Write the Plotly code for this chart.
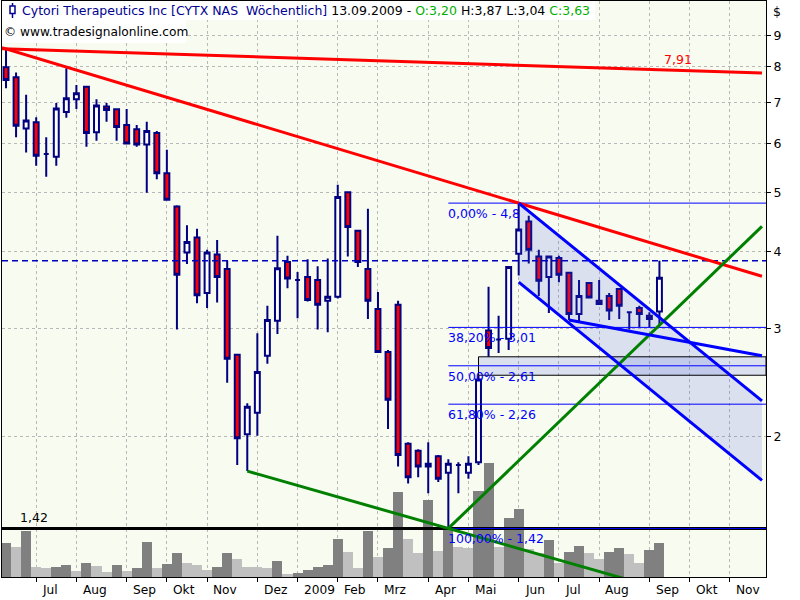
import numpy as np
import pandas as pd
import plotly.graph_objects as go

# ---------------- data ----------------
first_week = "2008-06-15"          # weekly bars dated on Sunday
opens = [7.98, 7.69, 6.35, 6.50, 5.77, 5.71, 6.75, 7.08, 7.42, 6.26,
         6.89, 6.82, 6.43, 6.33, 5.98, 6.24, 5.37, 4.74, 3.99, 4.22,
         3.43, 3.96, 3.75, 2.72, 2.02, 2.19, 2.71, 3.09, 3.85, 3.60,
         3.64, 3.60, 3.33, 3.38, 5.00, 4.33, 3.75, 3.23, 2.75, 3.28,
         1.95, 1.90, 1.79, 1.86, 1.75, 1.80, 1.75, 1.82, 2.98, 2.88,
         2.89, 3.97, 4.48, 3.93, 3.64, 3.91, 3.70, 3.17, 3.56, 3.33,
         3.39, 3.48, 3.19, 3.24, 3.15, 3.20]
highs = [8.55, 7.83, 7.20, 6.62, 6.14, 6.98, 7.95, 7.47, 7.44, 7.08,
         6.98, 6.84, 6.83, 6.43, 6.51, 6.29, 5.86, 4.76, 4.42, 4.36,
         4.03, 4.18, 3.87, 2.73, 2.27, 2.95, 3.27, 4.25, 3.94, 3.71,
         3.89, 3.79, 3.90, 5.14, 5.02, 4.34, 4.70, 3.44, 2.77, 3.33,
         1.96, 1.91, 1.96, 1.87, 1.84, 1.82, 1.86, 2.52, 3.51, 3.15,
         3.79, 4.80, 4.58, 4.03, 3.94, 3.94, 3.71, 3.60, 3.57, 3.60,
         3.43, 3.49, 3.20, 3.27, 3.19, 3.87]
lows = [7.38, 6.14, 5.80, 5.52, 5.30, 5.52, 6.61, 6.83, 5.93, 6.06,
        6.51, 6.06, 5.98, 5.93, 4.99, 5.25, 4.85, 2.99, 3.82, 3.30,
        3.24, 3.31, 2.45, 1.80, 1.76, 2.01, 2.63, 2.94, 3.49, 3.12,
        3.32, 2.99, 2.96, 3.36, 3.93, 3.78, 3.11, 2.74, 2.06, 1.79,
        1.68, 1.72, 1.62, 1.69, 1.42, 1.62, 1.71, 1.80, 2.70, 2.74,
        2.77, 3.66, 3.83, 3.39, 3.18, 3.57, 3.10, 3.08, 3.36, 3.28,
        3.10, 3.11, 2.99, 3.02, 3.02, 3.04]
closes = [7.61, 6.41, 6.54, 5.73, 5.77, 6.84, 7.11, 7.24, 6.24, 6.92,
          6.80, 6.38, 6.00, 5.98, 6.29, 5.37, 4.86, 3.67, 4.15, 3.40,
          3.99, 3.64, 2.68, 1.99, 2.24, 2.55, 3.10, 3.76, 3.62, 3.60,
          3.34, 3.28, 3.38, 4.91, 4.39, 3.85, 3.33, 2.75, 2.30, 1.87,
          1.72, 1.79, 1.81, 1.71, 1.81, 1.80, 1.81, 2.48, 2.79, 2.88,
          3.78, 4.35, 4.03, 3.59, 3.93, 3.67, 3.17, 3.39, 3.37, 3.29,
          3.21, 3.27, 3.19, 3.17, 3.11, 3.63]
volume_k = [680, 600, 920, 200, 180, 200, 240, 120, 280, 220,
            100, 240, 120, 180, 700, 180, 260, 480, 280, 240,
            140, 200, 480, 360, 200, 200, 180, 320, 60, 80,
            140, 200, 240, 760, 500, 180, 920, 400, 580, 1700,
            760, 480, 1540, 520, 940, 600, 580, 1720, 2280, 600,
            1180, 1360, 560, 480, 740, 280, 500, 620, 480, 360,
            500, 580, 460, 280, 540, 680]
month_names = ["Jan", "Feb", "Mrz", "Apr", "Mai", "Jun",
               "Jul", "Aug", "Sep", "Okt", "Nov", "Dez"]
price_ticks = [2, 3, 4, 5, 6, 7, 8, 9]

upper_line_last = 7.91            # label value of the flat red line at last bar
channel_top_end = 2.29            # descending channel, value at drawing end
channel_bottom_start = 3.57
channel_bottom_end = 1.70
support_start_week = 56
support_end = 2.71
fib_levels = [0.0, 0.382, 0.5, 0.618, 1.0]
fib_high_week, fib_low_week = 51, 44
gap_week = 47

# ---------------- helpers ----------------
start = pd.Timestamp(first_week)
n = len(closes)


def kdate(k):
    return start + pd.Timedelta(days=7 * k)


dates = [kdate(i) for i in range(n)]
x_lo_k, x_hi_k = -0.4, 75.6
draw_end_k = 75.2


def log_line(k0, p0, k1, p1, ka, kb):
    s = (np.log(p1) - np.log(p0)) / (k1 - k0)
    return ([kdate(ka), kdate(kb)],
            [float(p0 * np.exp(s * (ka - k0))), float(p0 * np.exp(s * (kb - k0)))])


def de(v):
    return f"{v:.2f}".replace(".", ",")


def de_short(v):
    s = f"{v:.2f}"
    if s.endswith("0"):
        s = s[:-1]
    return s.replace(".", ",")


FONT = "DejaVu Sans"
PL, PR, PT, PB = 2, 766, 1, 577


def xp(px):
    return (px - PL) / (PR - PL)


def yp(py):
    return (PB - py) / (PB - PT)


fig = go.Figure()

# volume (base axis, behind everything)
vol_colors = ["#808080" if i == 0 or volume_k[i] > volume_k[i - 1] else "#C0C0C0"
              for i in range(n)]
fig.add_trace(go.Bar(x=dates, y=volume_k, marker=dict(color=vol_colors, line=dict(width=0)),
                     width=7 * 86400000, yaxis="y", hoverinfo="skip"))

Y2 = "y2"

# channel fill
tx, ty = log_line(fib_high_week, highs[fib_high_week], draw_end_k, channel_top_end,
                  fib_high_week, draw_end_k)
bx, by = log_line(fib_high_week, channel_bottom_start, draw_end_k, channel_bottom_end,
                  fib_high_week, draw_end_k)
fig.add_trace(go.Scatter(x=tx + bx[::-1] + [tx[0]], y=ty + by[::-1] + [ty[0]],
                         fill="toself", fillcolor="rgba(70,90,230,0.16)",
                         line=dict(width=0), mode="lines", yaxis=Y2, hoverinfo="skip"))

# gap box
g0, g1 = highs[gap_week], lows[gap_week + 1]
gx0, gx1 = kdate(gap_week), kdate(x_hi_k)
fig.add_trace(go.Scatter(x=[gx0, gx1, gx1, gx0, gx0], y=[g0, g0, g1, g1, g0],
                         fill="toself", fillcolor="rgba(70,90,230,0.16)",
                         line=dict(color="black", width=1), mode="lines",
                         yaxis=Y2, hoverinfo="skip"))

# black support line at the low
low_val = lows[fib_low_week]
fig.add_trace(go.Scatter(x=[kdate(x_lo_k), kdate(x_hi_k)], y=[low_val, low_val],
                         mode="lines", line=dict(color="black", width=3),
                         yaxis=Y2, hoverinfo="skip"))

# fibonacci lines
fh, fl = highs[fib_high_week], lows[fib_low_week]
fib_vals = [float(np.exp(np.log(fh) - lv * (np.log(fh) - np.log(fl)))) for lv in fib_levels]
annotations = []
for lv, v in zip(fib_levels, fib_vals):
    fig.add_trace(go.Scatter(x=[kdate(fib_low_week), kdate(x_hi_k)], y=[v, v],
                             mode="lines", line=dict(color="#0000FF", width=1),
                             yaxis=Y2, hoverinfo="skip"))
    annotations.append(dict(x=kdate(fib_low_week), y=np.log10(v), xref="x", yref=Y2,
                            text=f"{lv*100:.2f}".replace(".", ",") + "% - " + de_short(v),
                            showarrow=False, xanchor="left", yanchor="top", xshift=-2,
                            yshift=-1, font=dict(family=FONT, size=12.5, color="#0000FF")))

# dashed line at last high
fig.add_trace(go.Scatter(x=[kdate(x_lo_k), kdate(x_hi_k)], y=[highs[-1], highs[-1]],
                         mode="lines", line=dict(color="#0000C0", width=1.5, dash="6px,4px"),
                         yaxis=Y2, hoverinfo="skip"))

# candles
fig.add_trace(go.Candlestick(x=dates, open=opens, high=highs, low=lows, close=closes,
                             increasing=dict(line=dict(color="#000080", width=2), fillcolor="white"),
                             decreasing=dict(line=dict(color="#000080", width=2), fillcolor="#FF0000"),
                             whiskerwidth=0, yaxis=Y2, hoverinfo="skip"))

# trend lines
lines = [
    (log_line(0, highs[0], fib_high_week, highs[fib_high_week], x_lo_k, draw_end_k), "#FF0000"),
    (log_line(0, highs[0], n - 1, upper_line_last, x_lo_k, draw_end_k), "#FF0000"),
    (log_line(24, lows[24], fib_low_week, lows[fib_low_week], 24, draw_end_k), "#008000"),
    (log_line(fib_low_week, lows[fib_low_week], n - 1, lows[n - 1], fib_low_week, draw_end_k), "#008000"),
    ((tx, ty), "#0000FF"),
    ((bx, by), "#0000FF"),
    (log_line(support_start_week, lows[support_start_week], draw_end_k, support_end,
              support_start_week, draw_end_k), "#0000FF"),
]
for (lx, ly), col in lines:
    fig.add_trace(go.Scatter(x=lx, y=ly, mode="lines", line=dict(color=col, width=3),
                             yaxis=Y2, hoverinfo="skip"))

# labels
annotations.append(dict(x=xp(18), y=np.log10(low_val), xref="paper", yref=Y2, text=de(low_val),
                        showarrow=False, xanchor="left", yanchor="bottom", yshift=1,
                        font=dict(family=FONT, size=12.5, color="black")))
annotations.append(dict(x=kdate(n - 1 + 0.3), y=np.log10(upper_line_last), xref="x", yref=Y2,
                        text=de(upper_line_last), showarrow=False, xanchor="left",
                        yanchor="bottom", yshift=1,
                        font=dict(family=FONT, size=12.5, color="#FF0000")))
annotations.append(dict(x=xp(771), y=yp(12), xref="paper", yref="paper", text="$",
                        showarrow=False, xanchor="left", yanchor="middle",
                        font=dict(family=FONT, size=12.5, color="black")))

last = n - 1
title = ("<span style='color:#000090'>Cytori Therapeutics Inc [CYTX NAS\u00a0 Wöchentlich]</span> "
         + dates[last].strftime("%d.%m.%Y") + " - "
         + f"<span style='color:#00B000'>O:{de(opens[last])}</span> "
         + f"H:{de(highs[last])} L:{de(lows[last])} "
         + f"<span style='color:#00B000'>C:{de(closes[last])}</span>")
annotations.append(dict(x=xp(20), y=yp(10), xref="paper", yref="paper", text=title,
                        showarrow=False, xanchor="left", yanchor="middle",
                        font=dict(family=FONT, size=12.5, color="black")))
annotations.append(dict(x=xp(2), y=yp(32), xref="paper", yref="paper",
                        text="© www.tradesignalonline.com", showarrow=False,
                        xanchor="left", yanchor="middle",
                        font=dict(family=FONT, size=12.2, color="black")))

# month ticks (first weekly bar of each month)
all_weeks = [kdate(i) for i in range(int(x_hi_k) + 1)]
month_ticks, month_labels = [], []
for i, d in enumerate(all_weeks):
    if i > 0 and d.month != all_weeks[i - 1].month:
        month_ticks.append(d)
        month_labels.append(str(d.year) if d.month == 1 else month_names[d.month - 1])
for d, lab in zip(month_ticks, month_labels):
    annotations.append(dict(x=d + pd.Timedelta(days=3), y=yp(590), xref="x", yref="paper",
                            text=lab, showarrow=False, xanchor="left", yanchor="middle",
                            font=dict(family=FONT, size=12.2, color="black")))

shapes = [
    dict(type="rect", xref="paper", yref="paper", x0=0, x1=xp(595), y0=yp(20), y1=1,
         fillcolor="white", line=dict(width=0), layer="above"),
    dict(type="rect", xref="paper", yref="paper", x0=0, x1=xp(186), y0=yp(43), y1=yp(20),
         fillcolor="white", line=dict(width=0), layer="above"),
    dict(type="line", xref="paper", yref="paper", x0=xp(12.5), x1=xp(12.5), y0=yp(18), y1=yp(3),
         line=dict(color="#000090", width=1.5), layer="above"),
    dict(type="rect", xref="paper", yref="paper", x0=xp(10), x1=xp(15), y0=yp(13.5), y1=yp(6),
         fillcolor="white", line=dict(color="#000090", width=1.5), layer="above"),
]

fig.update_layout(
    width=800, height=600,
    margin=dict(l=PL, r=800 - PR, t=PT, b=600 - PB),
    paper_bgcolor="white", plot_bgcolor="#F8FBF0",
    showlegend=False, bargap=0,
    font=dict(family=FONT, size=12, color="black"),
    xaxis=dict(type="date", range=[kdate(x_lo_k), kdate(x_hi_k)], tickvals=month_ticks,
               showticklabels=False, ticks="outside", ticklen=4, tickcolor="black",
               showgrid=True, gridcolor="#B8B8B8", griddash="dot", gridwidth=1,
               showline=True, mirror=True, linecolor="black", linewidth=1,
               zeroline=False, rangeslider=dict(visible=False)),
    yaxis=dict(range=[0, max(volume_k) * 5.05], visible=False, fixedrange=True),
    yaxis2=dict(type="log", overlaying="y", side="right",
                range=[np.log10(1.184), np.log10(10.23)],
                tickvals=price_ticks, ticktext=[str(t) for t in price_ticks],
                ticks="outside", ticklen=4, tickcolor="black",
                showgrid=True, gridcolor="#B8B8B8", griddash="dot", gridwidth=1,
                showline=True, mirror=True, linecolor="black", linewidth=1,
                zeroline=False, tickfont=dict(family=FONT, size=12.5, color="black")),
    annotations=annotations, shapes=shapes,
)

fig.write_html("out.html", config={"displayModeBar": False},
               post_script="document.body.style.margin='0px';")
